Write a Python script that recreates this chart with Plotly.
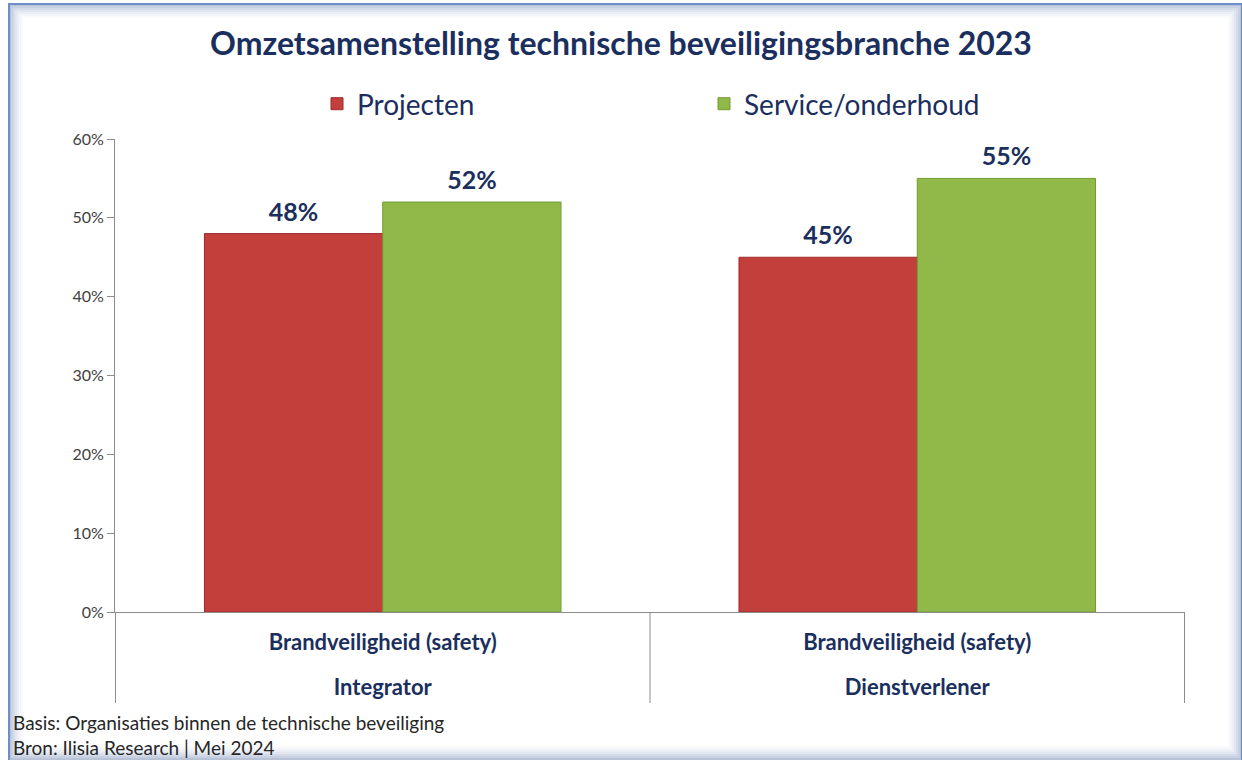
import plotly.graph_objects as go

# data
segments = ["Integrator", "Dienstverlener"]
branche = ["Brandveiligheid (safety)", "Brandveiligheid (safety)"]
projecten = [0.48, 0.45]
service = [0.52, 0.55]
y_ticks = [0, 0.1, 0.2, 0.3, 0.4, 0.5, 0.6]
y_ticklabels = ["0%", "10%", "20%", "30%", "40%", "50%", "60%"]

W, H = 1242, 760
L, R, T, B = 115, 57, 139, 148
pw, ph = W - L - R, H - T - B

NAVY = "#1b2f5e"
FONT = "Lato, 'Open Sans', sans-serif"


def px_x(x):
    return (x - L) / pw


def px_y(y):
    return (H - B - y) / ph


def big(s, size):
    return f"<span style='font-size:{size}px'>{s}</span>"


x_labels = [f"{big(b, 22)}<br><br>{big(s, 22)}" for b, s in zip(branche, segments)]


def bar_labels(vals):
    return [big(f"{v:.0%}", 25) + "<br> " for v in vals]


fig = go.Figure()
fig.add_trace(go.Bar(
    name="Projecten",
    x=segments, y=projecten,
    marker=dict(color="#c23f3c", line=dict(color="#9e2b29", width=1)),
    text=bar_labels(projecten), textposition="outside",
    textfont=dict(size=7, color=NAVY, family=FONT, weight="bold"),
    cliponaxis=False,
))
fig.add_trace(go.Bar(
    name="Service/onderhoud",
    x=segments, y=service,
    marker=dict(color="#91b94a", line=dict(color="#729a33", width=1)),
    text=bar_labels(service), textposition="outside",
    textfont=dict(size=7, color=NAVY, family=FONT, weight="bold"),
    cliponaxis=False,
))

shapes = []
# inner shadow of the frame
shade = ["#b9c3d8", "#c8d0e1", "#d5dce9", "#e1e6f0", "#ebeff5", "#f3f5f9", "#f9fafc"]
for i, c in enumerate(shade):
    shapes.append(dict(
        type="rect", xref="paper", yref="paper",
        x0=px_x(10 + 2 * i), x1=px_x(1241 - 2 * i),
        y0=px_y(759 - 2 * i), y1=px_y(5 + 2 * i),
        line=dict(color=c, width=2), fillcolor="rgba(0,0,0,0)", layer="below",
    ))
# outer frame line
shapes.append(dict(
    type="rect", xref="paper", yref="paper",
    x0=px_x(9), x1=px_x(1242), y0=px_y(761), y1=px_y(4),
    line=dict(color="#6d8ec6", width=2), fillcolor="rgba(0,0,0,0)", layer="below",
))
# category dividers below the axis
for xb in [-0.5, 0.5, 1.5]:
    shapes.append(dict(
        type="line", xref="x", yref="paper",
        x0=xb, x1=xb, y0=0, y1=px_y(703),
        line=dict(color="#8c8c8c", width=1),
    ))

fig.update_layout(
    width=W, height=H,
    margin=dict(l=L, r=R, t=T, b=B),
    paper_bgcolor="white", plot_bgcolor="white",
    font=dict(family=FONT, color="#333333"),
    barmode="group", bargap=0.333, bargroupgap=0,
    title=dict(
        text="<b>Omzetsamenstelling technische beveiligingsbranche 2023</b>",
        x=0.5, xanchor="center", y=1 - 44 / H, yanchor="middle",
        font=dict(size=32, color=NAVY, family=FONT),
    ),
    legend=dict(
        orientation="h", x=px_x(317), xanchor="left", y=px_y(104), yanchor="middle",
        font=dict(size=28, color=NAVY, family=FONT),
        entrywidth=342, entrywidthmode="pixels", itemwidth=30,
        bgcolor="rgba(0,0,0,0)",
    ),
    xaxis=dict(
        tickvals=segments, ticktext=x_labels,
        showline=True, linecolor="#8c8c8c", linewidth=1,
        ticks="", ticklabelstandoff=17,
        tickfont=dict(size=17, color=NAVY, family=FONT, weight="bold"),
    ),
    yaxis=dict(
        range=[0, 0.6], tickvals=y_ticks, ticktext=y_ticklabels,
        showgrid=False, zeroline=False,
        showline=True, linecolor="#8c8c8c", linewidth=1,
        ticks="outside", ticklen=7, tickcolor="#8c8c8c",
        tickfont=dict(size=16, color="#404040", family=FONT),
    ),
    shapes=shapes,
    annotations=[
        dict(
            text="Basis: Organisaties binnen de technische beveiliging<br>Bron: Ilisia Research | Mei 2024",
            xref="paper", yref="paper", x=px_x(11), y=px_y(709), xanchor="left", yanchor="top",
            align="left", showarrow=False,
            font=dict(size=19, color="#262626", family=FONT),
        ),
    ],
)

fig.write_html("out.html", config={"displayModeBar": False},
               post_script="document.body.style.margin='0';")
